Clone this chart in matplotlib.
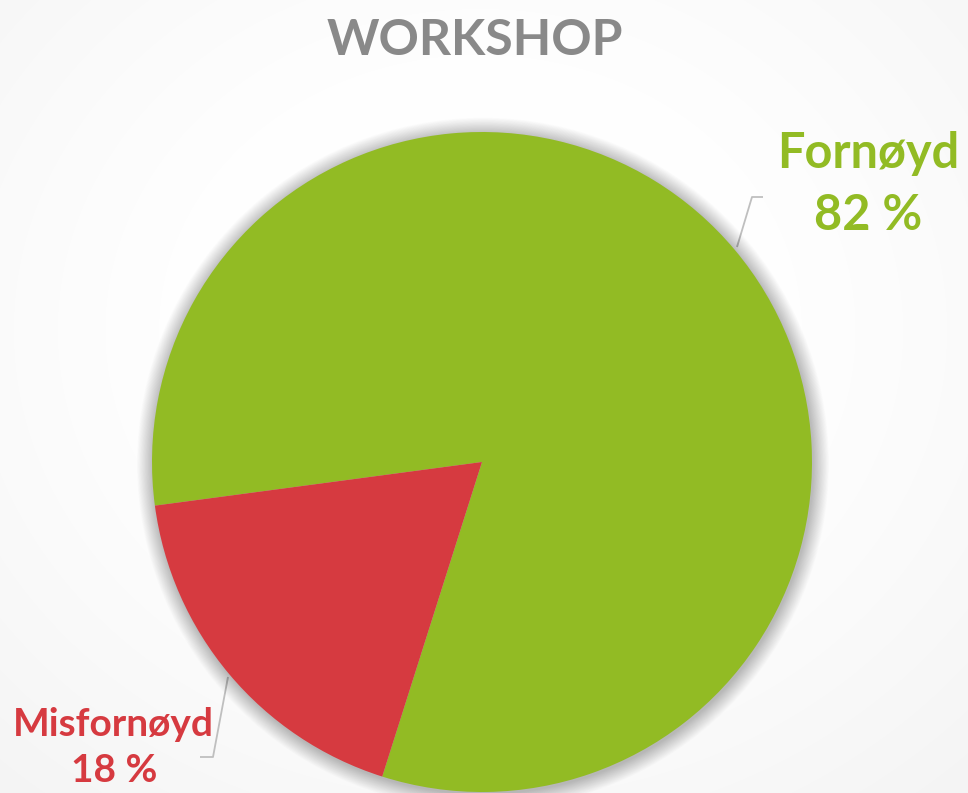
import numpy as np
import matplotlib
matplotlib.use("Agg")
import matplotlib.pyplot as plt
from matplotlib.patches import Circle

# Data
categories = ["Fornøyd", "Misfornøyd"]
values = [82, 18]
colors = ["#92BB24", "#D63A40"]
title = "WORKSHOP"

W, H = 968, 793
fig = plt.figure(figsize=(W / 100, H / 100), dpi=100)

# background gradient
bg = fig.add_axes([0, 0, 1, 1])
yy, xx = np.mgrid[0:H, 0:W]
d = np.sqrt(((xx - 480) / 700.0) ** 2 + ((yy - 330) / 600.0) ** 2)
val = 1.0 - 0.07 * np.clip(d - 0.35, 0, 1) ** 1.3
bg.imshow(np.dstack([val, val, val]), extent=[0, W, H, 0], aspect="auto")
bg.set_xlim(0, W)
bg.set_ylim(H, 0)
bg.axis("off")

# pie axes: centre (482, 462), radius 330 px
cx, cy, r = 482, 462, 330
ax = fig.add_axes([(cx - r) / W, (H - cy - r) / H, 2 * r / W, 2 * r / H])
ax.set_xlim(-1, 1)
ax.set_ylim(-1, 1)
ax.axis("off")

# soft shadow
n = 22
for i in range(n):
    rad = 1.0 + 0.0022 * (n - i)
    ax.add_patch(Circle((0.003, -0.005), rad, color="black", alpha=0.011, lw=0, zorder=0, clip_on=False))

ax.pie(values, colors=colors, startangle=252.4, counterclock=True, radius=1.0,
       wedgeprops=dict(linewidth=0), frame=False)
ax.set_xlim(-1, 1)
ax.set_ylim(-1, 1)
ax.set_aspect("equal")
ax.axis("off")

font = "Lato"

def fx(px):
    return px / W

def fy(py):
    return 1 - py / H

fig.text(fx(475), fy(55), title, ha="center", va="baseline", fontsize=36,
         fontweight="bold", color="#898989", family=font)

fig.text(fx(868), fy(168), categories[0], ha="center", va="baseline", fontsize=35,
         fontweight="bold", color=colors[0], family=font)
fig.text(fx(868), fy(230), f"{values[0]} %", ha="center", va="baseline", fontsize=35,
         fontweight="bold", color=colors[0], family=font)

fig.text(fx(113), fy(736), categories[1], ha="center", va="baseline", fontsize=28,
         fontweight="bold", color=colors[1], family=font)
fig.text(fx(114), fy(782), f"{values[1]} %", ha="center", va="baseline", fontsize=28,
         fontweight="bold", color=colors[1], family=font)

# leader lines
lc = "#BFBFBF"
bg.plot([737, 752, 763], [247, 197, 197], color=lc, lw=1.3, solid_capstyle="butt")
bg.plot([228, 213, 200], [677, 757, 757], color=lc, lw=1.3, solid_capstyle="butt")

fig.savefig("out.png", dpi=100)
